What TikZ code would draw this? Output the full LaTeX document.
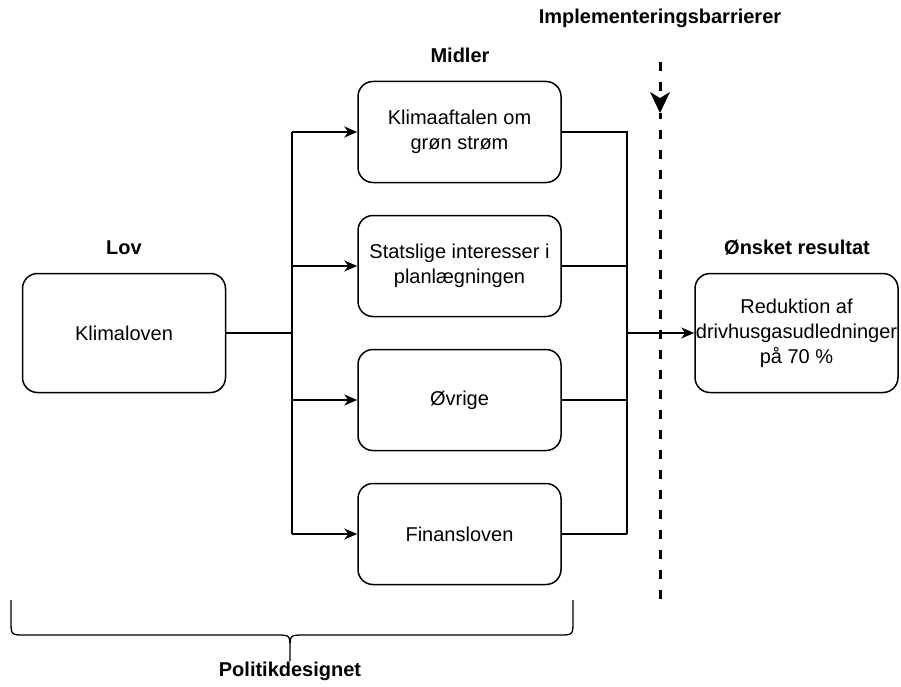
\documentclass[tikz,border=0pt]{standalone}
\usepackage{fontspec}
\setmainfont{Liberation Sans}
\usetikzlibrary{arrows.meta}
\begin{document}
\begin{tikzpicture}[x=1pt,y=-1pt,
  box/.style={draw,line width=1.5pt,rounded corners=15pt,minimum width=203pt,minimum height=101pt,inner sep=0pt,align=center,font=\fontsize{20}{25}\selectfont},
  bigbox/.style={box,minimum height=119pt},
  head/.style={font=\fontsize{20}{25}\selectfont\bfseries},
  conn/.style={line width=1.5pt},
  arr/.style={conn,-{Stealth[length=13pt,width=11pt,inset=4pt]}},
  barrier/.style={line width=3pt,dash pattern=on 9pt off 11pt}]
\useasboundingbox (0,0) rectangle (901,687);
% boxes
\node[bigbox] (lov) at (124,333) {Klimaloven};
\node[box] (m1) at (459.5,132) {Klimaaftalen om\\grøn strøm};
\node[box] (m2) at (459.5,266) {Statslige interesser i\\planlægningen};
\node[box] (m3) at (459.5,400) {Øvrige};
\node[box] (m4) at (459.5,534) {Finansloven};
\node[bigbox] (res) at (796.5,333) {Reduktion af\\drivhusgasudledninger\\på 70 \%};
% headings
\node[head] (hlov) at (124,248) {Lov};
\node[head] (hmid) at (460,55) {Midler};
\node[head] (hres) at (797,248) {Ønsket resultat};
\node[head] (himp) at (660,18) {Implementeringsbarrierer};
\node[head] (hpol) at (290,671) {Politikdesignet};
% fork left
\coordinate (fl) at (292,333);
\coordinate (fl1) at (292,132);
\coordinate (fl4) at (292,534);
\draw[conn] (lov.east) -- (fl);
\draw[conn] (fl1) -- (fl4);
\draw[arr] (fl1) -- (m1.west);
\draw[arr] (292,266) -- (m2.west);
\draw[arr] (292,400) -- (m3.west);
\draw[arr] (fl4) -- (m4.west);
% fork right
\coordinate (fr1) at (627,132);
\coordinate (fr4) at (627,534);
\coordinate (fr) at (627,333);
\draw[conn] (m1.east) -- (fr1) -- (fr4);
\draw[conn] (m2.east) -- (627,266);
\draw[conn] (m3.east) -- (627,400);
\draw[conn] (m4.east) -- (fr4);
\draw[arr] (fr) -- (res.west);
% barrier
\coordinate (b0) at (660,62);
\coordinate (b1) at (660,113);
\coordinate (b2) at (660,602);
\draw[barrier] (b0) -- (660,96);
\fill (b1) -- ++(-10,-21) -- ++(10,6) -- ++(10,-6) -- cycle;
\draw[barrier,dash phase=3pt] (b1) -- (b2);
% brace
\draw[conn,line width=1.3pt] (11,600) -- (11,621) .. controls (11,635) .. (25,635) -- (276,635) .. controls (290,635) .. (290,649) -- (290,661)
  (290,649) .. controls (290,635) .. (304,635) -- (559,635) .. controls (573,635) .. (573,621) -- (573,600);
\end{tikzpicture}
\end{document}
